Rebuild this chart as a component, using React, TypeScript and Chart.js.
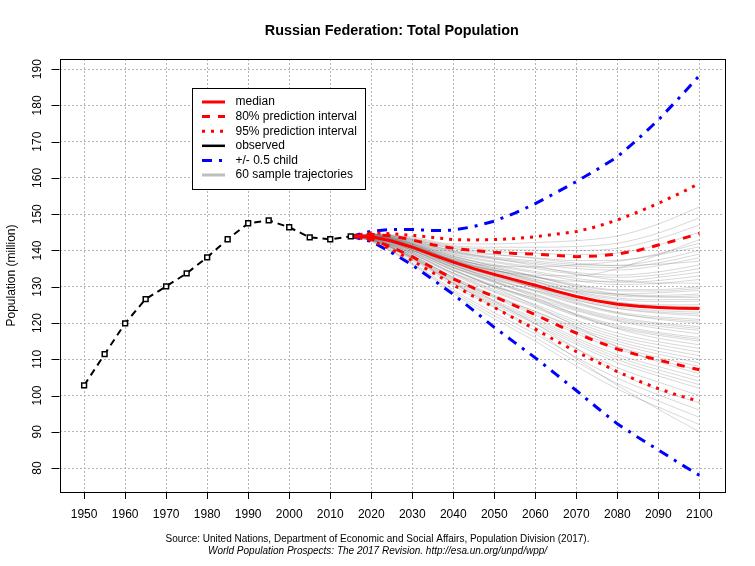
import { useEffect, useRef } from 'react';
import { Chart, registerables } from 'chart.js';

Chart.register(...registerables);

const TITLE = 'Russian Federation: Total Population';
const Y_TITLE = 'Population (million)';
const SOURCE_1 = 'Source: United Nations, Department of Economic and Social Affairs, Population Division (2017).';
const SOURCE_2 = 'World Population Prospects: The 2017 Revision. http://esa.un.org/unpd/wpp/';

const xTicks = [1950, 1960, 1970, 1980, 1990, 2000, 2010, 2020, 2030, 2040, 2050, 2060, 2070, 2080, 2090, 2100];
const yTicks = [80, 90, 100, 110, 120, 130, 140, 150, 160, 170, 180, 190];

const observedYears = [1950, 1955, 1960, 1965, 1970, 1975, 1980, 1985, 1990, 1995, 2000, 2005, 2010, 2015];
const observedPop = [102.8, 111.4, 119.9, 126.6, 130.1, 133.7, 138.1, 143.1, 147.5, 148.3, 146.4, 143.6, 143.1, 143.9];

const projYears = [2015, 2020, 2025, 2030, 2035, 2040, 2045, 2050, 2055, 2060, 2065, 2070, 2075, 2080, 2085, 2090, 2095, 2100];
const median = [143.9, 143.8, 142.6, 140.9, 138.8, 136.8, 135.0, 133.4, 131.9, 130.4, 128.8, 127.3, 126.1, 125.2, 124.6, 124.3, 124.1, 124.0];
const pi80Upper = [143.9, 144.5, 144.0, 142.9, 141.6, 140.6, 140.0, 139.5, 139.2, 139.0, 138.6, 138.3, 138.5, 139.0, 140.0, 141.5, 143.0, 144.7];
const pi80Lower = [143.9, 143.1, 140.9, 138.3, 135.2, 132.2, 129.6, 127.3, 124.8, 122.3, 119.6, 117.2, 114.9, 112.8, 111.2, 109.8, 108.4, 107.1];
const pi95Upper = [143.9, 144.9, 144.6, 144.2, 143.6, 143.0, 142.9, 143.0, 143.3, 143.8, 144.5, 145.2, 146.6, 148.4, 150.6, 153.0, 155.6, 158.5];
const pi95Lower = [143.9, 142.8, 140.3, 137.2, 133.9, 130.5, 127.3, 124.3, 121.2, 118.3, 115.1, 112.1, 109.3, 106.6, 104.1, 101.9, 100.0, 98.4];
const halfChildUpper = [143.9, 145.3, 145.8, 145.8, 145.5, 145.6, 146.6, 148.1, 150.3, 152.9, 155.9, 159.0, 162.3, 165.8, 170.7, 176.0, 182.0, 188.2];
const halfChildLower = [143.9, 142.5, 139.4, 136.0, 132.0, 127.9, 123.4, 118.8, 114.6, 110.4, 105.9, 101.4, 96.7, 92.2, 88.5, 85.0, 81.4, 78.0];

const trajYears = [2015, 2020, 2030, 2040, 2050, 2060, 2070, 2080, 2090, 2100];
const trajStart = 143.9;
const trajectories: number[][] = [
  [144.6, 143.7, 141.8, 141.8, 142.2, 142.7, 144.0, 147.3, 152.0],
  [144.5, 143.4, 141.3, 140.9, 140.9, 141.1, 142.0, 144.8, 149.0],
  [144.5, 143.2, 141.0, 140.3, 140.1, 140.0, 140.6, 143.2, 147.0],
  [144.4, 143.0, 140.6, 139.7, 139.2, 138.9, 139.3, 141.5, 145.0],
  [144.1, 141.8, 137.2, 134.5, 133.2, 133.0, 135.0, 138.8, 143.0],
  [144.3, 142.7, 140.0, 138.8, 138.0, 137.2, 137.3, 139.1, 142.0],
  [144.0, 141.5, 137.5, 135.8, 135.5, 136.0, 137.0, 138.8, 141.0],
  [144.3, 142.5, 139.7, 138.2, 137.1, 136.1, 135.9, 137.4, 140.0],
  [144.3, 142.4, 139.5, 137.9, 136.7, 135.6, 135.3, 136.6, 139.0],
  [144.2, 142.3, 139.3, 137.6, 136.3, 135.0, 134.6, 135.8, 138.0],
  [144.5, 143.0, 140.5, 139.0, 137.8, 136.5, 135.8, 136.2, 137.0],
  [144.2, 142.1, 139.0, 137.0, 135.4, 133.9, 133.2, 134.1, 136.0],
  [144.1, 142.0, 138.8, 136.7, 135.0, 133.4, 132.6, 133.3, 135.0],
  [143.9, 141.2, 137.0, 134.5, 132.6, 131.5, 131.5, 132.6, 134.0],
  [144.1, 141.8, 138.4, 136.1, 134.2, 132.3, 131.2, 131.7, 133.0],
  [144.0, 141.7, 138.2, 135.8, 133.8, 131.7, 130.6, 130.9, 132.0],
  [144.4, 142.8, 139.8, 137.8, 135.8, 133.5, 131.8, 131.0, 131.0],
  [144.0, 141.5, 137.9, 135.2, 132.9, 130.6, 129.2, 129.2, 130.0],
  [144.0, 141.5, 137.8, 135.1, 132.7, 130.3, 128.9, 128.8, 129.5],
  [143.7, 140.6, 136.2, 133.0, 130.5, 128.8, 128.0, 128.3, 129.0],
  [143.9, 141.3, 137.5, 134.6, 132.1, 129.5, 127.9, 127.6, 128.0],
  [143.9, 141.3, 137.4, 134.5, 131.9, 129.2, 127.5, 127.2, 127.5],
  [144.2, 142.0, 138.5, 135.6, 132.8, 130.0, 128.0, 127.2, 127.0],
  [143.9, 141.2, 137.3, 134.2, 131.5, 128.7, 126.9, 126.4, 126.5],
  [143.9, 141.1, 137.2, 134.0, 131.2, 128.4, 126.5, 125.9, 126.0],
  [143.6, 140.3, 135.8, 132.5, 129.8, 127.3, 125.7, 125.0, 125.0],
  [143.8, 141.0, 136.9, 133.6, 130.6, 127.6, 125.5, 124.7, 124.5],
  [144.1, 141.8, 138.0, 134.8, 131.5, 128.2, 125.8, 124.5, 124.0],
  [143.8, 140.8, 136.5, 133.0, 129.9, 126.7, 124.5, 123.4, 123.0],
  [143.7, 140.7, 136.4, 132.8, 129.7, 126.4, 124.1, 123.0, 122.5],
  [143.5, 140.0, 135.3, 131.8, 129.0, 126.2, 124.0, 122.7, 122.0],
  [143.7, 140.5, 136.0, 132.3, 129.0, 125.5, 123.0, 121.7, 121.0],
  [143.7, 140.4, 135.9, 132.1, 128.7, 125.2, 122.6, 121.3, 120.5],
  [144.0, 141.3, 137.2, 133.3, 129.6, 125.8, 122.8, 121.0, 120.0],
  [143.6, 140.2, 135.5, 131.5, 128.0, 124.3, 121.6, 120.0, 119.0],
  [143.6, 140.1, 135.3, 131.3, 127.8, 124.0, 121.2, 119.6, 118.5],
  [143.6, 140.0, 135.2, 131.1, 127.5, 123.7, 120.8, 119.1, 118.0],
  [143.3, 139.2, 133.8, 130.0, 126.8, 123.4, 120.5, 118.5, 117.0],
  [143.5, 139.7, 134.6, 130.4, 126.6, 122.5, 119.4, 117.4, 116.0],
  [143.5, 139.6, 134.5, 130.2, 126.3, 122.2, 119.0, 117.0, 115.5],
  [143.4, 139.5, 134.4, 130.0, 126.1, 121.9, 118.6, 116.6, 115.0],
  [143.8, 140.6, 136.0, 131.5, 127.0, 122.3, 118.4, 115.8, 114.0],
  [143.4, 139.3, 133.8, 129.2, 125.1, 120.7, 117.2, 114.8, 113.0],
  [143.3, 139.1, 133.6, 128.8, 124.6, 120.1, 116.4, 114.0, 112.0],
  [143.3, 139.0, 133.3, 128.5, 124.2, 119.5, 115.7, 113.1, 111.0],
  [143.0, 138.2, 132.0, 127.3, 123.2, 118.8, 115.0, 112.2, 110.0],
  [143.2, 138.7, 132.7, 127.7, 123.2, 118.3, 114.3, 111.4, 109.0],
  [143.2, 138.5, 132.5, 127.3, 122.7, 117.7, 113.5, 110.5, 108.0],
  [143.1, 138.3, 132.2, 126.9, 122.2, 117.1, 112.8, 109.7, 107.0],
  [143.6, 140.0, 134.8, 129.8, 124.8, 119.0, 113.5, 109.3, 106.0],
  [143.0, 138.1, 131.7, 126.2, 121.3, 115.9, 111.3, 108.0, 105.0],
  [143.0, 137.9, 131.4, 125.8, 120.8, 115.3, 110.6, 107.1, 104.0],
  [143.0, 137.8, 131.1, 125.4, 120.3, 114.7, 109.9, 106.2, 103.0],
  [142.9, 137.6, 130.9, 125.0, 119.8, 114.1, 109.1, 105.4, 102.0],
  [142.8, 137.3, 130.3, 124.3, 118.9, 112.9, 107.7, 103.7, 100.0],
  [143.2, 138.6, 132.4, 126.0, 119.8, 113.0, 106.5, 101.5, 98.0],
  [142.7, 136.7, 129.2, 122.8, 117.0, 110.5, 104.8, 100.2, 96.0],
  [142.6, 136.4, 128.7, 122.0, 116.0, 109.3, 103.3, 98.5, 94.0],
  [142.5, 136.1, 128.2, 121.2, 115.0, 108.1, 101.8, 96.8, 92.0],
  [143.0, 138.0, 131.0, 124.5, 117.8, 110.2, 102.8, 96.2, 90.0],
];

const RED = '#ff0000';
const BLUE = '#0000ff';
const TRAJ_COLOR = 'rgba(115,115,115,0.28)';
const DASH_80 = [8, 8];
const DASH_95 = [3, 6];
const DASH_CHILD = [10, 7, 3, 7];
const DASH_OBS = [7, 5];
const FONT = "'Liberation Sans', Arial, Helvetica, sans-serif";

const legendItems = [
  { label: 'median', color: RED, dash: [] as number[], width: 3 },
  { label: '80% prediction interval', color: RED, dash: DASH_80, width: 3 },
  { label: '95% prediction interval', color: RED, dash: DASH_95, width: 3 },
  { label: 'observed', color: '#000000', dash: [] as number[], width: 2.5 },
  { label: '+/- 0.5 child', color: BLUE, dash: DASH_CHILD, width: 3 },
  { label: '60 sample trajectories', color: '#bebebe', dash: [] as number[], width: 3 },
];

function toXY(xs: number[], ys: number[]) {
  return xs.map((x, i) => ({ x, y: ys[i] }));
}

const decorPlugin = {
  id: 'decor',
  afterDraw(chart: any) {
    const { ctx, chartArea: a, scales } = chart;
    const x = scales.x;
    const y = scales.y;
    ctx.save();
    ctx.setLineDash([]);
    ctx.strokeStyle = '#000';
    ctx.lineWidth = 1;
    // frame
    ctx.strokeRect(Math.round(a.left) + 0.5, Math.round(a.top) + 0.5, Math.round(a.right - a.left), Math.round(a.bottom - a.top));
    // tick marks
    ctx.beginPath();
    xTicks.forEach((v) => {
      const px = Math.round(x.getPixelForValue(v)) + 0.5;
      ctx.moveTo(px, a.bottom);
      ctx.lineTo(px, a.bottom + 7);
    });
    yTicks.forEach((v) => {
      const py = Math.round(y.getPixelForValue(v)) + 0.5;
      ctx.moveTo(a.left, py);
      ctx.lineTo(a.left - 8, py);
    });
    ctx.stroke();
    // tick labels
    ctx.fillStyle = '#000';
    ctx.font = `12px ${FONT}`;
    ctx.textAlign = 'center';
    ctx.textBaseline = 'middle';
    xTicks.forEach((v) => ctx.fillText(String(v), x.getPixelForValue(v), a.bottom + 23));
    yTicks.forEach((v) => {
      ctx.save();
      ctx.translate(a.left - 22, y.getPixelForValue(v));
      ctx.rotate(-Math.PI / 2);
      ctx.fillText(String(v), 0, 0);
      ctx.restore();
    });
    // y title
    ctx.save();
    ctx.translate(12, (a.top + a.bottom) / 2);
    ctx.rotate(-Math.PI / 2);
    ctx.fillText(Y_TITLE, 0, 0);
    ctx.restore();
    // main title
    ctx.font = `bold 14.4px ${FONT}`;
    ctx.fillText(TITLE, (a.left + a.right) / 2, 31.5);
    // source
    ctx.font = `10px ${FONT}`;
    ctx.fillText(SOURCE_1, chart.width / 2, 539);
    ctx.font = `italic 10px ${FONT}`;
    ctx.fillText(SOURCE_2, chart.width / 2, 551);
    // legend
    const lx = 192.5, ly = 88.5, lw = 173, lh = 101;
    ctx.fillStyle = '#ffffff';
    ctx.fillRect(lx, ly, lw, lh);
    ctx.strokeStyle = '#000';
    ctx.lineWidth = 1;
    ctx.strokeRect(lx, ly, lw, lh);
    ctx.font = `12px ${FONT}`;
    ctx.textAlign = 'left';
    legendItems.forEach((item, i) => {
      const ry = 102 + i * 14.6;
      ctx.beginPath();
      ctx.setLineDash(item.dash);
      ctx.lineCap = 'butt';
      ctx.strokeStyle = item.color;
      ctx.lineWidth = item.width;
      ctx.moveTo(202, ry);
      ctx.lineTo(225, ry);
      ctx.stroke();
      ctx.setLineDash([]);
      ctx.fillStyle = '#000';
      ctx.fillText(item.label, 235.5, ry);
    });
    ctx.restore();
  },
};

export default function App() {
  const canvasRef = useRef<HTMLCanvasElement | null>(null);

  useEffect(() => {
    document.body.style.margin = '0';
    const canvas = canvasRef.current;
    if (!canvas) return;

    const trajSets = trajectories.map((row) => ({
      data: toXY(trajYears, [trajStart, ...row]),
      borderColor: TRAJ_COLOR,
      borderWidth: 1,
      pointRadius: 0,
      cubicInterpolationMode: 'monotone' as const,
      order: 10,
    }));

    const line = (ys: number[], color: string, dash: number[], order: number) => ({
      data: toXY(projYears, ys),
      borderColor: color,
      borderWidth: 3,
      borderDash: dash,
      borderCapStyle: 'butt' as const,
      pointRadius: 0,
      order,
    });

    const chart = new Chart(canvas, {
      type: 'line',
      data: {
        datasets: [
          ...trajSets,
          line(halfChildUpper, BLUE, DASH_CHILD, 5),
          line(halfChildLower, BLUE, DASH_CHILD, 5),
          line(pi95Upper, RED, DASH_95, 4),
          line(pi95Lower, RED, DASH_95, 4),
          line(pi80Upper, RED, DASH_80, 3),
          line(pi80Lower, RED, DASH_80, 3),
          line(median, RED, [], 2),
          {
            data: toXY(observedYears, observedPop),
            borderColor: '#000000',
            borderWidth: 2,
            borderDash: DASH_OBS,
            pointStyle: 'rect',
            pointRadius: 3.4,
            pointBorderWidth: 1.5,
            pointBorderColor: '#000000',
            pointBackgroundColor: '#ffffff',
            order: 1,
          },
        ] as any,
      },
      options: {
        animation: false,
        responsive: false,
        devicePixelRatio: 1,
        layout: { padding: { top: 59, right: 31, left: 0, bottom: 0 } },
        plugins: {
          legend: { display: false },
          tooltip: { enabled: false },
          title: { display: false },
        },
        elements: { line: { tension: 0 } },
        scales: {
          x: {
            type: 'linear',
            min: 1944,
            max: 2106,
            afterBuildTicks: (s: any) => {
              s.ticks = xTicks.map((v) => ({ value: v }));
            },
            afterFit: (s: any) => {
              s.height = 74;
            },
            ticks: { display: false },
            grid: { color: '#b4b4b4', lineWidth: 1, drawTicks: false },
            border: { display: false, dash: [2, 2] },
          },
          y: {
            type: 'linear',
            min: 73.4,
            max: 192.8,
            afterBuildTicks: (s: any) => {
              s.ticks = yTicks.map((v) => ({ value: v }));
            },
            afterFit: (s: any) => {
              s.width = 59.5;
            },
            ticks: { display: false },
            grid: { color: '#b4b4b4', lineWidth: 1, drawTicks: false },
            border: { display: false, dash: [2, 2] },
          },
        },
      } as any,
      plugins: [decorPlugin],
    });

    return () => chart.destroy();
  }, []);

  return (
    <div style={{ width: 755, height: 566, background: '#ffffff' }}>
      <canvas ref={canvasRef} width={755} height={566} style={{ display: 'block', width: 755, height: 566 }} />
    </div>
  );
}
